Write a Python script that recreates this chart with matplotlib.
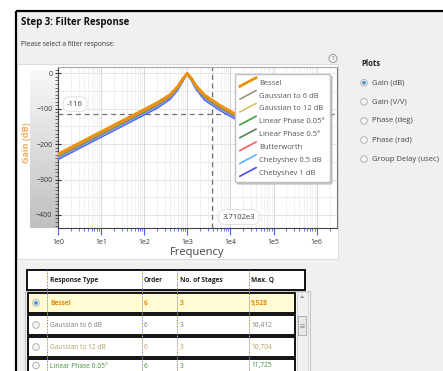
import numpy as np
import matplotlib
matplotlib.use('Agg')
import matplotlib.pyplot as plt
from matplotlib.patches import Rectangle, Circle, Polygon
from matplotlib.lines import Line2D
from matplotlib.legend_handler import HandlerBase
from matplotlib.ticker import LogLocator, MultipleLocator, NullFormatter, FuncFormatter

plt.rcParams['font.family'] = ['Open Sans', 'DejaVu Sans']

W, H = 443, 371

# ---- chart data ----
freqs = [1, 10, 100, 200, 400, 600, 800, 900, 950, 1000, 1050, 1100, 1250, 1600, 2500, 3800, 6000, 11500, 1e5, 1e6]
bessel = [-228, -165, -102, -83, -60, -37, -14, -7, -3, 0, -3, -6, -14, -35, -61, -76, -92, -111, -173, -241]
gauss_6db = [-231, -168, -105, -86, -62, -39, -15, -7, -3, 0, -3, -7, -15, -37, -63, -78, -94, -113, -175, -243]
gauss_12db = [-232, -169, -106, -87, -63, -40, -16, -8, -4, 0, -4, -7, -16, -38, -64, -79, -95, -114, -176, -244]
linphase_005 = [-233, -170, -107, -88, -64, -40, -16, -8, -4, 0, -4, -8, -16, -38, -65, -80, -96, -115, -177, -245]
linphase_05 = [-234, -171, -108, -89, -65, -41, -17, -8, -4, 0, -4, -8, -17, -39, -66, -81, -97, -116, -178, -246]
butterworth = [-236, -173, -110, -91, -67, -42, -17, -8, -4, 0, -4, -8, -17, -40, -68, -83, -99, -118, -180, -248]
cheby_05db = [-240, -177, -114, -95, -70, -45, -19, -9, -4, 0, -4, -9, -19, -43, -72, -87, -103, -122, -184, -252]
cheby_1db = [-243, -180, -117, -98, -73, -47, -20, -10, -5, 0, -5, -10, -20, -45, -75, -90, -106, -125, -187, -255]

series_names = ['Bessel', 'Gaussian to 6 dB', 'Gaussian to 12 dB', 'Linear Phase 0.05°',
                'Linear Phase 0.5°', 'Butterworth', 'Chebyshev 0.5 dB', 'Chebyshev 1 dB']
series_colors = ['#f0900a', '#9c9478', '#d8c060', '#3f9f3f', '#5c7f5c', '#f26060', '#5ab0ff', '#4848ff']
series_gains = [bessel, gauss_6db, gauss_12db, linphase_005, linphase_05, butterworth, cheby_05db, cheby_1db]

cursor_freq = 3710.2
cursor_gain = -116

plot_options = ['Gain (dB)', 'Gain (V/V)', 'Phase (deg)', 'Phase (rad)', 'Group Delay (usec)']
selected_plot = 0

table_header = ['Response Type', 'Order', 'No. of Stages', 'Max. Q']
table_types = ['Bessel', 'Gaussian to 6 dB', 'Gaussian to 12 dB', 'Linear Phase 0.05°']
table_orders = ['6', '6', '6', '6']
table_stages = ['3', '3', '3', '3']
table_maxq = ['9,528', '10,412', '10,704', '11,725']
table_colors = ['#e08a10', '#7a7a7a', '#b4a060', '#3f8f3f']


class DiagHandler(HandlerBase):
    """legend handle drawn as a short slanted line"""
    def create_artists(self, legend, orig_handle, xdescent, ydescent, width, height, fontsize, trans):
        ln = Line2D([-xdescent, width - xdescent], [-ydescent - 0.3 * height, 1.3 * height - ydescent])
        ln.update_from(orig_handle)
        ln.set_transform(trans)
        return [ln]


fig = plt.figure(figsize=(W / 100, H / 100), dpi=100)

# background layer in pixel coordinates
bg = fig.add_axes([0, 0, 1, 1])
bg.set_xlim(0, W)
bg.set_ylim(H, 0)
bg.axis('off')
bg.add_patch(Rectangle((0, 0), W, H, fc='white', ec='none'))
bg.add_patch(Rectangle((16, 10.5), W, H, fc='#f0f0f0', ec='none'))
bg.plot([16, W], [10.5, 10.5], color='black', lw=1.6, solid_capstyle='butt')
bg.plot([16, 16], [10.5, H], color='black', lw=1.6, solid_capstyle='butt')

bg.text(21, 22, 'Step 3: Filter Response', fontsize=7, fontweight='bold', color='#111', va='center')
bg.text(21, 45, 'Please select a filter response:', fontsize=4.8, color='#333', va='center')

# plot panel
bg.add_patch(Rectangle((17.5, 63.5), 320.5, 195.5, fc='white', ec='#d6d6d6', lw=0.6))
bg.add_patch(Circle((333, 58.5), 4, fc='#f6f6f6', ec='#8a8a8a', lw=0.6))
bg.text(333, 58.7, '?', fontsize=4.5, color='#555', ha='center', va='center')

bg.text(197.5, 253, 'Frequency', fontsize=8, color='#444', ha='center', va='center')

# plots selector
bg.text(361, 64, 'Plots', fontsize=5.5, fontweight='bold', color='#222', va='center')
for i, name in enumerate(plot_options):
    y = 82.7 + i * 19.1
    bg.add_patch(Circle((364, y), 3.3, fc='#f6f6f6', ec='#a8a8a8', lw=0.6))
    if i == selected_plot:
        bg.add_patch(Circle((364, y), 1.8, fc='#3a8ad6', ec='none'))
    bg.text(372, y, name, fontsize=5.5, color='#444', va='center')

# table
bg.add_patch(Rectangle((25, 291), 285, 90, fc='#f4f4f4', ec='#c8c8c8', lw=0.8))
bg.add_patch(Rectangle((27.5, 269.5), 277.5, 20.5, fc='white', ec='black', lw=1.3))
col_x = [50, 144, 180, 251]
for cx, txt in zip(col_x, table_header):
    bg.text(cx, 280.5, txt, fontsize=4.8, fontweight='bold', color='#222', va='center')

for i, rtype in enumerate(table_types):
    top = 293 + i * 22
    fc = '#fffbd2' if i == 0 else 'white'
    bg.add_patch(Rectangle((28.5, top), 266.5, 20, fc=fc, ec='black', lw=1.3))
    yc = min(top + 10.5, 366)
    bg.add_patch(Circle((36, yc - 0.5), 3.3, fc='#f6f6f6', ec='#a8a8a8', lw=0.6))
    if i == 0:
        bg.add_patch(Circle((36, yc - 0.5), 1.8, fc='#3a8ad6', ec='none'))
    weight = 'bold' if i == 0 else 'normal'
    vals = [rtype, table_orders[i], table_stages[i], table_maxq[i]]
    for cx, v in zip(col_x, vals):
        bg.text(cx, yc, v, fontsize=4.8, fontweight=weight, color=table_colors[i], va='center')

for sx in [46.7, 141.7, 176.7, 249.3]:
    bg.plot([sx, sx], [270, H], color='#5a6cff', lw=0.7, ls=(0, (1, 2)))
    bg.plot([sx, sx], [270, H], color='#f0d040', lw=0.7, ls=(1.5, (1, 2)))

# scrollbar
bg.add_patch(Rectangle((297, 292), 11, 80, fc='#f0f0f0', ec='#d4d4d4', lw=0.6))
bg.add_patch(Polygon([(300, 298), (304.5, 298), (302.2, 295.5)], fc='#909090', ec='none'))
bg.add_patch(Rectangle((298.5, 316), 8, 19, fc='#e8e8e8', ec='#a8a8a8', lw=0.6))
for gy in [324, 325.5, 327]:
    bg.plot([300.5, 304.5], [gy, gy], color='#777', lw=0.4)

# gradient strip behind the y tick labels
gax = fig.add_axes([30 / W, 1 - 228 / H, 28 / W, 158 / H])
t = np.linspace(0, 1, 120)[:, None] * np.ones((1, 10))
gax.imshow(0.97 - 0.22 * t, aspect='auto', cmap='gray', vmin=0, vmax=1, interpolation='bilinear')
gax.axis('off')

bg2 = fig.add_axes([0, 0, 1, 1])
bg2.set_xlim(0, W)
bg2.set_ylim(H, 0)
bg2.axis('off')
bg2.text(27, 143, 'Gain (dB)', fontsize=6.5, fontweight='bold', color='#f3ad5a',
         ha='center', va='center', rotation=90)

# main chart
ax = fig.add_axes([58 / W, 1 - 228 / H, 279 / W, 161 / H])
ax.set_xscale('log')
ax.set_xlim(1, 10 ** (279 / 43.1))
ax.set_ylim(-437, 18)
ax.set_facecolor('white')

ax.xaxis.set_major_locator(LogLocator(base=10, numticks=10))
ax.xaxis.set_minor_locator(LogLocator(base=10, subs=np.arange(2, 10), numticks=20))
ax.xaxis.set_minor_formatter(NullFormatter())
ax.xaxis.set_major_formatter(FuncFormatter(lambda v, p: f"1e{int(round(np.log10(v)))}"))
ax.yaxis.set_major_locator(MultipleLocator(100))
ax.yaxis.set_minor_locator(MultipleLocator(10))

ax.grid(which='major', axis='x', color='#d6d6d6', lw=0.7)
ax.grid(which='minor', axis='x', color='#ececec', lw=0.5)
for gy in range(-400, 1, 50):
    ax.axhline(gy, color='#dedede' if gy % 100 == 0 else '#e8e8e8', lw=0.6, zorder=0.5)

ax.tick_params(axis='x', which='major', direction='out', length=5, width=0.8, color='#4a5cff',
               labelsize=5, labelcolor='#333', pad=3)
ax.tick_params(axis='x', which='minor', direction='out', length=2.5, width=0.6, color='#4a5cff')
ax.tick_params(axis='y', which='major', direction='inout', length=5, width=0.8, color='#333',
               labelsize=5, labelcolor='#333', pad=1.5)
ax.tick_params(axis='y', which='minor', direction='out', length=2, width=0.5, color='#333')

for side, col in [('left', '#444'), ('bottom', '#444'), ('top', '#a8a8a8'), ('right', '#777')]:
    ax.spines[side].set_color(col)
    ax.spines[side].set_linewidth(0.8)

lines = []
for k in range(len(series_names) - 1, -1, -1):
    lw = 2.0 if k == 0 else 1.2
    ln, = ax.plot(freqs, series_gains[k], color=series_colors[k], lw=lw, label=series_names[k],
                  zorder=3 + (len(series_names) - k) * 0.1, solid_joinstyle='round')
    lines.append(ln)
lines = lines[::-1]

ax.axhline(cursor_gain, color='#707070', lw=0.9, ls=(0, (4, 3)), zorder=2.5)
ax.axvline(cursor_freq, color='#707070', lw=0.9, ls=(0, (4, 3)), zorder=2.5)

box = dict(boxstyle='round,pad=0.5,rounding_size=0.8', fc='white', ec='#dcdcdc', lw=0.6)
ax.text(0.061, 0.77, f"{cursor_gain}", transform=ax.transAxes, ha='center', va='center',
        fontsize=5.5, color='#333', bbox=box, zorder=6)
ax.text(0.649, 0.068, f"{cursor_freq:.4e}".replace('e+0', 'e'), transform=ax.transAxes,
        ha='center', va='center', fontsize=5.5, color='#333', bbox=box, zorder=6)

leg = ax.legend(handles=lines, loc='upper right',
                bbox_to_anchor=((330 - 58) / 279, (228 - 74) / 161), borderaxespad=0,
                fontsize=5.5, frameon=True, fancybox=True,
                shadow={'color': '#b0b0b0', 'alpha': 0.6, 'ox': 1.5, 'oy': -1.5},
                handlelength=2.1, handletextpad=0.4, labelspacing=0.72, borderpad=0.7,
                edgecolor='#c0c0c0', framealpha=1, labelcolor='#555',
                handler_map={Line2D: DiagHandler()})
leg.set_zorder(10)

fig.savefig('out.png', dpi=100)
